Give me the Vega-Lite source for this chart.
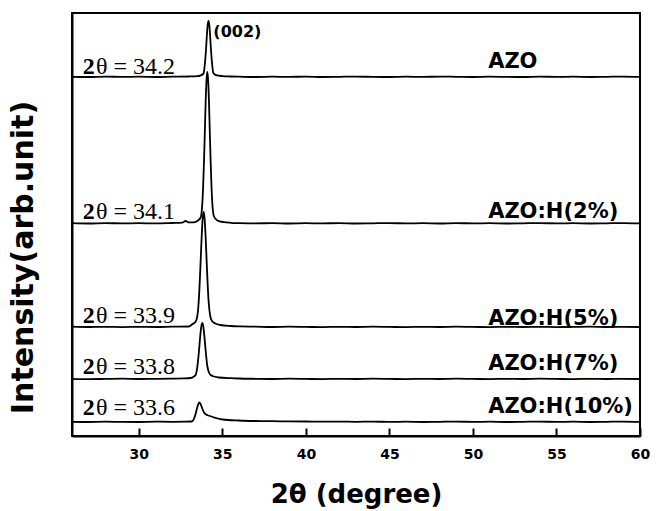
{
  "$schema": "https://vega.github.io/schema/vega-lite/v6.json",
  "width": 568,
  "height": 423,
  "autosize": {"type": "none"},
  "padding": {"left": 72, "top": 13, "right": 20, "bottom": 75},
  "background": "white",
  "config": {
    "view": {"stroke": "black", "strokeWidth": 2},
    "axis": {"grid": false, "domainColor": "black", "domainWidth": 2}
  },
  "datasets": {
    "xrd": [
      {"s":"AZO","t":26,"i":359.2},{"s":"AZO","t":27,"i":359.0},{"s":"AZO","t":28,"i":359.4},{"s":"AZO","t":29,"i":359.1},{"s":"AZO","t":30,"i":359.3},{"s":"AZO","t":31,"i":359.0},{"s":"AZO","t":32,"i":359.3},{"s":"AZO","t":33,"i":359.5},{"s":"AZO","t":33.5,"i":359.8},{"s":"AZO","t":33.67,"i":360.4},{"s":"AZO","t":33.87,"i":362.4},{"s":"AZO","t":33.97,"i":375.2},{"s":"AZO","t":34.02,"i":386},{"s":"AZO","t":34.07,"i":400},{"s":"AZO","t":34.12,"i":410.8},{"s":"AZO","t":34.17,"i":415},{"s":"AZO","t":34.22,"i":410.8},{"s":"AZO","t":34.27,"i":400},{"s":"AZO","t":34.32,"i":386},{"s":"AZO","t":34.37,"i":375.2},{"s":"AZO","t":34.47,"i":362.6},{"s":"AZO","t":34.67,"i":360.6},{"s":"AZO","t":35,"i":359.9},{"s":"AZO","t":35.5,"i":359.5},{"s":"AZO","t":36,"i":359.3},{"s":"AZO","t":37,"i":359.0},{"s":"AZO","t":38,"i":359.3},{"s":"AZO","t":39,"i":359.1},{"s":"AZO","t":40,"i":359.4},{"s":"AZO","t":41,"i":359.0},{"s":"AZO","t":42,"i":359.2},{"s":"AZO","t":43,"i":359.4},{"s":"AZO","t":44,"i":359.1},{"s":"AZO","t":45,"i":359.0},{"s":"AZO","t":46,"i":359.3},{"s":"AZO","t":47,"i":359.1},{"s":"AZO","t":48,"i":359.4},{"s":"AZO","t":49,"i":359.2},{"s":"AZO","t":50,"i":359.0},{"s":"AZO","t":51,"i":359.3},{"s":"AZO","t":52,"i":359.1},{"s":"AZO","t":53,"i":359.0},{"s":"AZO","t":54,"i":359.4},{"s":"AZO","t":55,"i":359.1},{"s":"AZO","t":56,"i":359.3},{"s":"AZO","t":57,"i":359.0},{"s":"AZO","t":58,"i":359.2},{"s":"AZO","t":59,"i":359.4},{"s":"AZO","t":60,"i":359.1},

      {"s":"H2","t":26,"i":212.8},{"s":"H2","t":27,"i":212.5},{"s":"H2","t":28,"i":212.9},{"s":"H2","t":29,"i":212.6},{"s":"H2","t":30,"i":212.8},{"s":"H2","t":31,"i":212.6},{"s":"H2","t":32,"i":213.0},{"s":"H2","t":32.6,"i":213.3},{"s":"H2","t":32.8,"i":215.0},{"s":"H2","t":33.0,"i":213.6},{"s":"H2","t":33.3,"i":213.7},{"s":"H2","t":33.5,"i":215.0},{"s":"H2","t":33.7,"i":218.5},{"s":"H2","t":33.8,"i":232.5},{"s":"H2","t":33.85,"i":249.5},{"s":"H2","t":33.9,"i":274},{"s":"H2","t":33.95,"i":303.5},{"s":"H2","t":34.0,"i":333.5},{"s":"H2","t":34.05,"i":355.5},{"s":"H2","t":34.1,"i":364},{"s":"H2","t":34.15,"i":355.5},{"s":"H2","t":34.2,"i":333.5},{"s":"H2","t":34.25,"i":303.5},{"s":"H2","t":34.3,"i":274},{"s":"H2","t":34.35,"i":249.5},{"s":"H2","t":34.4,"i":232.5},{"s":"H2","t":34.5,"i":219.5},{"s":"H2","t":34.7,"i":215.5},{"s":"H2","t":35.1,"i":213.8},{"s":"H2","t":35.5,"i":213.2},{"s":"H2","t":36,"i":212.9},{"s":"H2","t":37,"i":212.6},{"s":"H2","t":38,"i":212.9},{"s":"H2","t":39,"i":212.5},{"s":"H2","t":40,"i":212.8},{"s":"H2","t":41,"i":212.6},{"s":"H2","t":42,"i":212.9},{"s":"H2","t":43,"i":212.5},{"s":"H2","t":44,"i":212.7},{"s":"H2","t":45,"i":212.9},{"s":"H2","t":46,"i":212.6},{"s":"H2","t":47,"i":212.8},{"s":"H2","t":48,"i":212.5},{"s":"H2","t":49,"i":212.9},{"s":"H2","t":50,"i":212.6},{"s":"H2","t":51,"i":212.8},{"s":"H2","t":52,"i":212.5},{"s":"H2","t":53,"i":212.7},{"s":"H2","t":54,"i":212.9},{"s":"H2","t":55,"i":212.6},{"s":"H2","t":56,"i":212.8},{"s":"H2","t":57,"i":212.5},{"s":"H2","t":58,"i":212.7},{"s":"H2","t":59,"i":212.9},{"s":"H2","t":60,"i":212.6},

      {"s":"H5","t":26,"i":109.3},{"s":"H5","t":27,"i":109.0},{"s":"H5","t":28,"i":109.2},{"s":"H5","t":29,"i":108.9},{"s":"H5","t":30,"i":109.2},{"s":"H5","t":31,"i":109.0},{"s":"H5","t":32,"i":109.3},{"s":"H5","t":33,"i":109.5},{"s":"H5","t":33.18,"i":111.5},{"s":"H5","t":33.38,"i":114},{"s":"H5","t":33.48,"i":118},{"s":"H5","t":33.58,"i":133.3},{"s":"H5","t":33.68,"i":166.6},{"s":"H5","t":33.73,"i":187},{"s":"H5","t":33.78,"i":205.8},{"s":"H5","t":33.83,"i":219},{"s":"H5","t":33.88,"i":224},{"s":"H5","t":33.93,"i":219},{"s":"H5","t":33.98,"i":205.8},{"s":"H5","t":34.03,"i":187},{"s":"H5","t":34.08,"i":166.6},{"s":"H5","t":34.18,"i":134},{"s":"H5","t":34.28,"i":119.5},{"s":"H5","t":34.38,"i":115},{"s":"H5","t":34.58,"i":112.5},{"s":"H5","t":34.88,"i":111},{"s":"H5","t":35.5,"i":110},{"s":"H5","t":36,"i":109.6},{"s":"H5","t":37,"i":109.3},{"s":"H5","t":38,"i":109.0},{"s":"H5","t":39,"i":109.3},{"s":"H5","t":40,"i":109.1},{"s":"H5","t":41,"i":108.9},{"s":"H5","t":42,"i":109.2},{"s":"H5","t":43,"i":109.0},{"s":"H5","t":44,"i":109.3},{"s":"H5","t":45,"i":109.1},{"s":"H5","t":46,"i":108.9},{"s":"H5","t":47,"i":109.2},{"s":"H5","t":48,"i":109.0},{"s":"H5","t":49,"i":109.3},{"s":"H5","t":50,"i":109.1},{"s":"H5","t":51,"i":108.9},{"s":"H5","t":52,"i":109.2},{"s":"H5","t":53,"i":109.0},{"s":"H5","t":54,"i":109.2},{"s":"H5","t":55,"i":108.9},{"s":"H5","t":56,"i":109.1},{"s":"H5","t":57,"i":109.3},{"s":"H5","t":58,"i":109.0},{"s":"H5","t":59,"i":109.2},{"s":"H5","t":60,"i":109.0},

      {"s":"H7","t":26,"i":57.2},{"s":"H7","t":27,"i":56.9},{"s":"H7","t":28,"i":57.1},{"s":"H7","t":29,"i":57.3},{"s":"H7","t":30,"i":57.0},{"s":"H7","t":31,"i":57.2},{"s":"H7","t":32,"i":57.4},{"s":"H7","t":32.7,"i":57.6},{"s":"H7","t":33.1,"i":58},{"s":"H7","t":33.3,"i":59.5},{"s":"H7","t":33.4,"i":61},{"s":"H7","t":33.5,"i":68.8},{"s":"H7","t":33.6,"i":85},{"s":"H7","t":33.65,"i":95},{"s":"H7","t":33.7,"i":104},{"s":"H7","t":33.75,"i":110.6},{"s":"H7","t":33.8,"i":113},{"s":"H7","t":33.85,"i":110.6},{"s":"H7","t":33.9,"i":104},{"s":"H7","t":33.95,"i":95},{"s":"H7","t":34.0,"i":85.5},{"s":"H7","t":34.1,"i":70},{"s":"H7","t":34.2,"i":63.5},{"s":"H7","t":34.3,"i":61},{"s":"H7","t":34.5,"i":59.5},{"s":"H7","t":34.8,"i":58.5},{"s":"H7","t":35.5,"i":57.8},{"s":"H7","t":36,"i":57.5},{"s":"H7","t":37,"i":57.2},{"s":"H7","t":38,"i":57.0},{"s":"H7","t":39,"i":57.3},{"s":"H7","t":40,"i":57.1},{"s":"H7","t":41,"i":56.9},{"s":"H7","t":42,"i":57.2},{"s":"H7","t":43,"i":57.0},{"s":"H7","t":44,"i":57.3},{"s":"H7","t":45,"i":57.1},{"s":"H7","t":46,"i":56.9},{"s":"H7","t":47,"i":57.2},{"s":"H7","t":48,"i":57.0},{"s":"H7","t":49,"i":57.3},{"s":"H7","t":50,"i":57.1},{"s":"H7","t":51,"i":56.9},{"s":"H7","t":52,"i":57.2},{"s":"H7","t":53,"i":57.0},{"s":"H7","t":54,"i":57.3},{"s":"H7","t":55,"i":57.1},{"s":"H7","t":56,"i":56.9},{"s":"H7","t":57,"i":57.2},{"s":"H7","t":58,"i":57.0},{"s":"H7","t":59,"i":57.2},{"s":"H7","t":60,"i":57.0},

      {"s":"H10","t":26,"i":14.2},{"s":"H10","t":27,"i":14.0},{"s":"H10","t":28,"i":14.3},{"s":"H10","t":29,"i":14.1},{"s":"H10","t":30,"i":14.0},{"s":"H10","t":31,"i":14.3},{"s":"H10","t":32,"i":14.2},{"s":"H10","t":32.8,"i":14.3},{"s":"H10","t":33.17,"i":14.5},{"s":"H10","t":33.32,"i":18},{"s":"H10","t":33.42,"i":23.5},{"s":"H10","t":33.52,"i":30},{"s":"H10","t":33.57,"i":32.5},{"s":"H10","t":33.62,"i":33.7},{"s":"H10","t":33.67,"i":32.8},{"s":"H10","t":33.72,"i":31},{"s":"H10","t":33.82,"i":26.5},{"s":"H10","t":33.92,"i":23},{"s":"H10","t":34.02,"i":21.5},{"s":"H10","t":34.17,"i":20.5},{"s":"H10","t":34.42,"i":19},{"s":"H10","t":34.72,"i":17.5},{"s":"H10","t":35.02,"i":16.5},{"s":"H10","t":36,"i":15.5},{"s":"H10","t":37,"i":15.0},{"s":"H10","t":38,"i":14.8},{"s":"H10","t":39,"i":14.6},{"s":"H10","t":40,"i":14.5},{"s":"H10","t":41,"i":14.3},{"s":"H10","t":42,"i":14.4},{"s":"H10","t":43,"i":14.2},{"s":"H10","t":44,"i":14.4},{"s":"H10","t":45,"i":14.1},{"s":"H10","t":46,"i":14.3},{"s":"H10","t":47,"i":14.0},{"s":"H10","t":48,"i":14.2},{"s":"H10","t":49,"i":14.4},{"s":"H10","t":50,"i":14.1},{"s":"H10","t":51,"i":14.3},{"s":"H10","t":52,"i":14.0},{"s":"H10","t":53,"i":14.2},{"s":"H10","t":54,"i":14.4},{"s":"H10","t":55,"i":14.1},{"s":"H10","t":56,"i":14.3},{"s":"H10","t":57,"i":14.0},{"s":"H10","t":58,"i":14.2},{"s":"H10","t":59,"i":14.4},{"s":"H10","t":60,"i":14.1}
    ],
    "names": [
      {"label":"AZO","t":50.91,"i":368},
      {"label":"AZO:H(2%)","t":50.91,"i":218},
      {"label":"AZO:H(5%)","t":50.91,"i":111},
      {"label":"AZO:H(7%)","t":50.91,"i":66},
      {"label":"AZO:H(10%)","t":50.91,"i":22.7}
    ],
    "angles": [
      {"b":"2","rest":"θ = 34.2","t":26.64,"t2":27.44,"i":362},
      {"b":"2","rest":"θ = 34.1","t":26.64,"t2":27.44,"i":217},
      {"b":"2","rest":"θ = 33.9","t":26.64,"t2":27.44,"i":112.7},
      {"b":"2","rest":"θ = 33.8","t":26.64,"t2":27.44,"i":62},
      {"b":"2","rest":"θ = 33.6","t":26.64,"t2":27.44,"i":21}
    ],
    "peak": [
      {"label":"(002)","t":34.46,"i":399.3}
    ]
  },
  "layer": [
    {
      "data": {"name": "xrd"},
      "mark": {"type": "line", "color": "black", "strokeWidth": 1.8, "interpolate": "monotone"},
      "encoding": {
        "x": {
          "field": "t", "type": "quantitative",
          "scale": {"domain": [26, 60], "nice": false, "zero": false},
          "axis": {
            "values": [30, 35, 40, 45, 50, 55, 60],
            "title": "2θ (degree)",
            "tickSize": -8, "tickWidth": 2, "tickColor": "black",
            "labelFont": "DejaVu Sans", "labelFontWeight": "bold", "labelFontSize": 14, "labelColor": "black",
            "labelPadding": 19, "labelFlush": false,
            "titleFont": "DejaVu Sans", "titleFontWeight": "bold", "titleFontSize": 26, "titleColor": "black",
            "titlePadding": 20
          }
        },
        "y": {
          "field": "i", "type": "quantitative",
          "scale": {"domain": [0, 423], "nice": false, "zero": false},
          "axis": {
            "title": "Intensity(arb.unit)",
            "ticks": false, "labels": false,
            "titleFont": "DejaVu Sans", "titleFontWeight": "bold", "titleFontSize": 30, "titleColor": "black",
            "titleAngle": -90, "titleBaseline": "bottom", "titleAlign": "center",
            "titleX": -34, "titleY": 244
          }
        },
        "detail": {"field": "s"}
      }
    },
    {
      "data": {"name": "names"},
      "mark": {"type": "text", "align": "left", "baseline": "alphabetic", "font": "DejaVu Sans", "fontWeight": "bold", "fontSize": 21, "color": "black"},
      "encoding": {
        "x": {"field": "t", "type": "quantitative"},
        "y": {"field": "i", "type": "quantitative"},
        "text": {"field": "label"}
      }
    },
    {
      "data": {"name": "angles"},
      "mark": {"type": "text", "align": "left", "baseline": "alphabetic", "font": "Liberation Serif", "fontWeight": "bold", "fontSize": 24, "color": "black"},
      "encoding": {
        "x": {"field": "t", "type": "quantitative"},
        "y": {"field": "i", "type": "quantitative"},
        "text": {"field": "b"}
      }
    },
    {
      "data": {"name": "angles"},
      "mark": {"type": "text", "align": "left", "baseline": "alphabetic", "font": "Liberation Serif", "fontSize": 24, "color": "black"},
      "encoding": {
        "x": {"field": "t2", "type": "quantitative"},
        "y": {"field": "i", "type": "quantitative"},
        "text": {"field": "rest"}
      }
    },
    {
      "data": {"name": "peak"},
      "mark": {"type": "text", "align": "left", "baseline": "alphabetic", "font": "DejaVu Sans", "fontWeight": "bold", "fontSize": 16, "color": "black"},
      "encoding": {
        "x": {"field": "t", "type": "quantitative"},
        "y": {"field": "i", "type": "quantitative"},
        "text": {"field": "label"}
      }
    }
  ]
}
